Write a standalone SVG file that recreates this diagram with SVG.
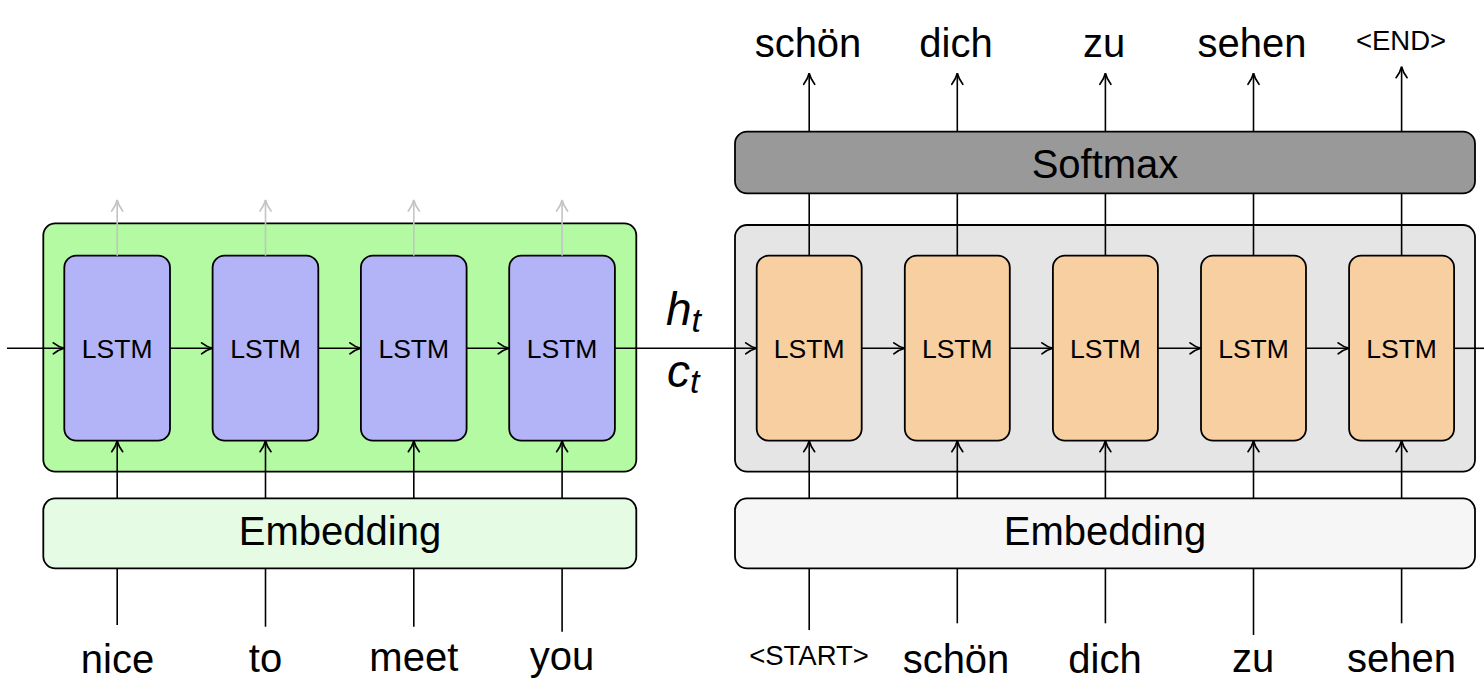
<svg xmlns="http://www.w3.org/2000/svg" width="1484" height="694" viewBox="0 0 1484 694">
<style>
  .box{stroke:#000;stroke-width:1.8}
  .enc{fill:#b3b3f8}
  .dec{fill:#f7cfa0}
  .lbl{font-family:"Liberation Sans",Arial,sans-serif;fill:#000;text-anchor:middle}
  .lstm{font-size:26.5px}
  .big{font-size:40px}
  .tag{font-size:27.5px}
  .math{font-family:"Liberation Sans",Arial,sans-serif;font-style:italic;fill:#000}
  .c{fill:none;stroke:#000;stroke-width:1.6}
  .cg{fill:none;stroke:#c4c4c4;stroke-width:1.6}
</style>
<defs>
  <marker id="ar" viewBox="-13 -7 15 14" refX="0" refY="0" markerWidth="15" markerHeight="14" markerUnits="userSpaceOnUse" orient="auto">
    <path d="M-11,-5.5 C-7.5,-2.8 -2.8,-0.7 0,0 C-2.8,0.7 -7.5,2.8 -11,5.5" fill="none" stroke="#000" stroke-width="1.7" stroke-linecap="round"/>
  </marker>
  <marker id="arg" viewBox="-13 -7 15 14" refX="0" refY="0" markerWidth="15" markerHeight="14" markerUnits="userSpaceOnUse" orient="auto">
    <path d="M-11,-5.5 C-7.5,-2.8 -2.8,-0.7 0,0 C-2.8,0.7 -7.5,2.8 -11,5.5" fill="none" stroke="#c4c4c4" stroke-width="1.7" stroke-linecap="round"/>
  </marker>
</defs>
<rect width="1484" height="694" fill="#fff"/>

<!-- containers -->
<g id="encoder">
  <rect class="box" x="43.3" y="223.3" width="593" height="248.4" rx="12" fill="#b3faa3"/>
</g>
<g id="decoder">
  <rect class="box" x="735" y="225" width="740" height="246.7" rx="12" fill="#e5e5e5"/>
</g>
<g id="softmax">
  <rect class="box" x="735" y="131.7" width="740" height="61.6" rx="12" fill="#999999"/>
  <text class="lbl big" x="1105" y="178">Softmax</text>
</g>
<g id="embedding-enc">
  <rect class="box" x="43.3" y="498.3" width="593" height="70" rx="12" fill="#e6fbe4"/>
  <text class="lbl big" x="340" y="545">Embedding</text>
</g>
<g id="embedding-dec">
  <rect class="box" x="735" y="498.3" width="740" height="70" rx="12" fill="#f6f6f6"/>
  <text class="lbl big" x="1105" y="545">Embedding</text>
</g>

<!-- encoder LSTMs -->
<g id="enc1"><rect class="box enc" x="64.3" y="255.7" width="105.7" height="185" rx="12"/><text class="lbl lstm" x="117.2" y="358">LSTM</text></g>
<g id="enc2"><rect class="box enc" x="212.6" y="255.7" width="105.7" height="185" rx="12"/><text class="lbl lstm" x="265.5" y="358">LSTM</text></g>
<g id="enc3"><rect class="box enc" x="360.9" y="255.7" width="105.7" height="185" rx="12"/><text class="lbl lstm" x="413.8" y="358">LSTM</text></g>
<g id="enc4"><rect class="box enc" x="509.2" y="255.7" width="105.7" height="185" rx="12"/><text class="lbl lstm" x="562.1" y="358">LSTM</text></g>

<!-- decoder LSTMs -->
<g id="dec1"><rect class="box dec" x="756.7" y="255.7" width="105" height="185" rx="12"/><text class="lbl lstm" x="809.2" y="358">LSTM</text></g>
<g id="dec2"><rect class="box dec" x="904.8" y="255.7" width="105" height="185" rx="12"/><text class="lbl lstm" x="957.3" y="358">LSTM</text></g>
<g id="dec3"><rect class="box dec" x="1052.9" y="255.7" width="105" height="185" rx="12"/><text class="lbl lstm" x="1105.4" y="358">LSTM</text></g>
<g id="dec4"><rect class="box dec" x="1201" y="255.7" width="105" height="185" rx="12"/><text class="lbl lstm" x="1253.5" y="358">LSTM</text></g>
<g id="dec5"><rect class="box dec" x="1349.1" y="255.7" width="105" height="185" rx="12"/><text class="lbl lstm" x="1401.6" y="358">LSTM</text></g>

<!-- connectors -->
<g id="connectors">
  <!-- encoder horizontal chain -->
  <line class="c" x1="7" y1="348.3" x2="64.3" y2="348.3" marker-end="url(#ar)"/>
  <line class="c" x1="170" y1="348.3" x2="212.6" y2="348.3" marker-end="url(#ar)"/>
  <line class="c" x1="318.3" y1="348.3" x2="360.9" y2="348.3" marker-end="url(#ar)"/>
  <line class="c" x1="466.6" y1="348.3" x2="509.2" y2="348.3" marker-end="url(#ar)"/>
  <line class="c" x1="614.9" y1="348.3" x2="756.7" y2="348.3" marker-end="url(#ar)"/>
  <!-- decoder horizontal chain -->
  <line class="c" x1="861.7" y1="348.3" x2="904.8" y2="348.3" marker-end="url(#ar)"/>
  <line class="c" x1="1009.8" y1="348.3" x2="1052.9" y2="348.3" marker-end="url(#ar)"/>
  <line class="c" x1="1157.9" y1="348.3" x2="1201" y2="348.3" marker-end="url(#ar)"/>
  <line class="c" x1="1306" y1="348.3" x2="1349.1" y2="348.3" marker-end="url(#ar)"/>
  <line class="c" x1="1454.1" y1="348.3" x2="1484" y2="348.3"/>
  <!-- encoder grey outputs -->
  <line class="cg" x1="117.2" y1="255.7" x2="117.2" y2="200" marker-end="url(#arg)"/>
  <line class="cg" x1="265.5" y1="255.7" x2="265.5" y2="200" marker-end="url(#arg)"/>
  <line class="cg" x1="413.8" y1="255.7" x2="413.8" y2="200" marker-end="url(#arg)"/>
  <line class="cg" x1="562.1" y1="255.7" x2="562.1" y2="200" marker-end="url(#arg)"/>
  <!-- encoder embedding to LSTM -->
  <line class="c" x1="117.2" y1="498.3" x2="117.2" y2="440.7" marker-end="url(#ar)"/>
  <line class="c" x1="265.5" y1="498.3" x2="265.5" y2="440.7" marker-end="url(#ar)"/>
  <line class="c" x1="413.8" y1="498.3" x2="413.8" y2="440.7" marker-end="url(#ar)"/>
  <line class="c" x1="562.1" y1="498.3" x2="562.1" y2="440.7" marker-end="url(#ar)"/>
  <!-- encoder words to embedding -->
  <line class="c" x1="117.2" y1="625" x2="117.2" y2="568.3"/>
  <line class="c" x1="265.5" y1="626.7" x2="265.5" y2="568.3"/>
  <line class="c" x1="413.8" y1="626.7" x2="413.8" y2="568.3"/>
  <line class="c" x1="562.1" y1="631.7" x2="562.1" y2="568.3"/>
  <!-- decoder embedding to LSTM -->
  <line class="c" x1="809.2" y1="498.3" x2="809.2" y2="440.7" marker-end="url(#ar)"/>
  <line class="c" x1="957.3" y1="498.3" x2="957.3" y2="440.7" marker-end="url(#ar)"/>
  <line class="c" x1="1105.4" y1="498.3" x2="1105.4" y2="440.7" marker-end="url(#ar)"/>
  <line class="c" x1="1253.5" y1="498.3" x2="1253.5" y2="440.7" marker-end="url(#ar)"/>
  <line class="c" x1="1401.6" y1="498.3" x2="1401.6" y2="440.7" marker-end="url(#ar)"/>
  <!-- decoder words to embedding -->
  <line class="c" x1="809.2" y1="630" x2="809.2" y2="568.3"/>
  <line class="c" x1="957.3" y1="623.3" x2="957.3" y2="568.3"/>
  <line class="c" x1="1105.4" y1="623.3" x2="1105.4" y2="568.3"/>
  <line class="c" x1="1253.5" y1="635" x2="1253.5" y2="568.3"/>
  <line class="c" x1="1401.6" y1="623.3" x2="1401.6" y2="568.3"/>
  <!-- decoder LSTM to softmax -->
  <line class="c" x1="809.2" y1="255.7" x2="809.2" y2="193.3"/>
  <line class="c" x1="957.3" y1="255.7" x2="957.3" y2="193.3"/>
  <line class="c" x1="1105.4" y1="255.7" x2="1105.4" y2="193.3"/>
  <line class="c" x1="1253.5" y1="255.7" x2="1253.5" y2="193.3"/>
  <line class="c" x1="1401.6" y1="255.7" x2="1401.6" y2="193.3"/>
  <!-- softmax to outputs -->
  <line class="c" x1="809.2" y1="131.7" x2="809.2" y2="73.3" marker-end="url(#ar)"/>
  <line class="c" x1="957.3" y1="131.7" x2="957.3" y2="73.3" marker-end="url(#ar)"/>
  <line class="c" x1="1105.4" y1="131.7" x2="1105.4" y2="73.3" marker-end="url(#ar)"/>
  <line class="c" x1="1253.5" y1="131.7" x2="1253.5" y2="73.3" marker-end="url(#ar)"/>
  <line class="c" x1="1401.6" y1="131.7" x2="1401.6" y2="66.7" marker-end="url(#ar)"/>
</g>

<!-- state labels -->
<g id="state-labels">
  <text class="math" x="666" y="325" font-size="46">h<tspan font-size="34" dy="7">t</tspan></text>
  <text class="math" x="667" y="387" font-size="46">c<tspan font-size="34" dy="6">t</tspan></text>
</g>

<!-- output words -->
<g id="outputs">
  <text class="lbl big" x="808" y="56.7">schön</text>
  <text class="lbl big" x="956" y="56.7">dich</text>
  <text class="lbl big" x="1104" y="56.7">zu</text>
  <text class="lbl big" x="1252" y="56.7">sehen</text>
  <text class="lbl tag" x="1401" y="49.5">&lt;END&gt;</text>
</g>

<!-- input words -->
<g id="inputs-enc">
  <text class="lbl big" x="117.5" y="672.5">nice</text>
  <text class="lbl big" x="265.5" y="672">to</text>
  <text class="lbl big" x="413.8" y="671">meet</text>
  <text class="lbl big" x="562" y="669.5">you</text>
</g>
<g id="inputs-dec">
  <text class="lbl tag" x="809" y="665">&lt;START&gt;</text>
  <text class="lbl big" x="956" y="673">schön</text>
  <text class="lbl big" x="1105" y="673">dich</text>
  <text class="lbl big" x="1253" y="672">zu</text>
  <text class="lbl big" x="1401.6" y="672">sehen</text>
</g>
</svg>
